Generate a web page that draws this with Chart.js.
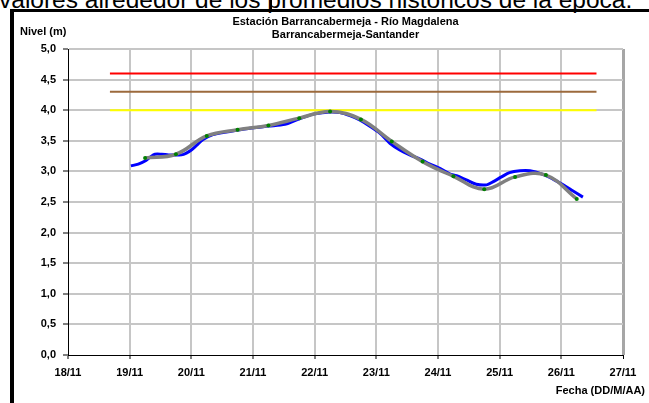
<!DOCTYPE html>
<html>
<head>
<meta charset="utf-8">
<script src="https://cdn.jsdelivr.net/npm/chart.js@4.4.0/dist/chart.umd.min.js"></script>
<style>
  html, body { margin: 0; padding: 0; background: #fff; width: 649px; height: 403px; overflow: hidden; }
  #top-text { position: absolute; left: -1px; top: -14px; font: 24.5px "Liberation Sans", Arial, sans-serif; white-space: nowrap; color: #000; }
  .bar { position: absolute; top: 0; width: 2px; height: 10px; background: #000; }
  #frame { position: absolute; left: 10px; top: 9px; width: 639px; height: 394px; border-left: 4px solid #000; border-top: 3px solid #000; box-sizing: border-box; }
  #wrap { position: absolute; left: 0; top: 0; width: 649px; height: 403px; }
</style>
</head>
<body>
<div id="top-text">valores alrededor de los promedios históricos de la época.</div>
<div class="bar" style="left:270px"></div>
<div id="frame"></div>
<div id="wrap"><canvas id="nivel"></canvas></div>
<script>
// textos
const titleLines = ['Estación Barrancabermeja - Río Magdalena', 'Barrancabermeja-Santander'];
const yTitle = 'Nivel (m)';
const xTitle = 'Fecha (DD/M/AA)';
const xTickLabels = ['18/11', '19/11', '20/11', '21/11', '22/11', '23/11', '24/11', '25/11', '26/11', '27/11'];

// nivel horario (dia del mes con fraccion)
const levelDays = [19.02, 19.14, 19.25, 19.33, 19.41, 19.52, 19.63, 19.73, 19.84, 19.92,
  20.00, 20.09, 20.19, 20.35, 20.54, 20.71, 20.98, 21.25, 21.52, 21.68,
  21.84, 22.00, 22.25, 22.41, 22.57, 22.73, 22.89, 23.06, 23.22, 23.38,
  23.54, 23.71, 23.87, 24.03, 24.19, 24.30, 24.46, 24.62, 24.79, 24.89,
  25.03, 25.16, 25.33, 25.49, 25.70, 25.87, 26.03, 26.19, 26.35];
const levels = [3.09, 3.12, 3.17, 3.23, 3.28, 3.28, 3.27, 3.27, 3.27, 3.30,
  3.35, 3.43, 3.52, 3.60, 3.64, 3.67, 3.71, 3.74, 3.77, 3.83,
  3.89, 3.94, 3.97, 3.96, 3.91, 3.84, 3.74, 3.62, 3.46, 3.35,
  3.27, 3.20, 3.12, 3.05, 2.96, 2.93, 2.86, 2.79, 2.78, 2.83,
  2.91, 2.98, 3.01, 3.01, 2.95, 2.87, 2.78, 2.68, 2.58];

// lecturas 6:00 y 18:00
const readDays = [19.25, 19.75, 20.25, 20.75, 21.25, 21.75, 22.25, 22.75, 23.25, 23.75, 24.25, 24.75, 25.25, 25.75, 26.25];
const readLevels = [3.22, 3.28, 3.58, 3.68, 3.75, 3.87, 3.98, 3.85, 3.49, 3.16, 2.92, 2.71, 2.91, 2.94, 2.55];

// umbrales
const alertLevels = [4.6, 4.3, 4.0];
const alertColors = ['#ff0000', '#9c6a3c', '#ffff00'];
const alertFrom = 18.68, alertTo = 26.57;

const pts = (xs, ys) => xs.map((x, i) => ({ x: x, y: ys[i] }));

const textPlugin = {
  id: 'texts',
  afterDraw(chart) {
    const ctx = chart.ctx, a = chart.chartArea;
    ctx.save();
    ctx.fillStyle = '#000';
    ctx.font = 'bold 11px "Liberation Sans", Arial, sans-serif';
    ctx.textBaseline = 'middle';
    ctx.textAlign = 'center';
    const cx = (a.left + a.right) / 2;
    ctx.fillText(titleLines[0], cx, 22);
    ctx.fillText(titleLines[1], cx, 35);
    ctx.textAlign = 'left';
    ctx.fillText(yTitle, 20, 32);
    ctx.textAlign = 'right';
    ctx.fillText(xTitle, 645, 391);
    ctx.restore();
  }
};

const datasets = [
  {
    data: pts(readDays, readLevels),
    borderColor: '#808080',
    borderWidth: 3.5,
    pointRadius: 2,
    pointBackgroundColor: '#008000',
    pointBorderColor: '#008000',
    pointBorderWidth: 0,
    tension: 0.4
  },
  {
    data: pts(levelDays, levels),
    borderColor: '#0000ff',
    borderWidth: 3,
    pointRadius: 0,
    tension: 0.3
  }
];
alertLevels.forEach((lv, i) => {
  datasets.push({
    data: [{ x: alertFrom, y: lv }, { x: alertTo, y: lv }],
    borderColor: alertColors[i],
    borderWidth: 2,
    pointRadius: 0
  });
});

const tickFont = { family: '"Liberation Sans", Arial, sans-serif', size: 11, weight: 'bold' };

new Chart(document.getElementById('nivel'), {
  type: 'line',
  data: { datasets: datasets },
  options: {
    responsive: true,
    maintainAspectRatio: false,
    animation: false,
    layout: { padding: { left: 10, right: 26, top: 49, bottom: 0 } },
    plugins: { legend: { display: false }, tooltip: { enabled: false } },
    scales: {
      x: {
        type: 'linear',
        min: 18,
        max: 27,
        afterFit: (s) => { s.height = 48; },
        ticks: {
          stepSize: 1,
          color: '#000',
          font: tickFont,
          padding: 7,
          maxRotation: 0,
          callback: (v) => xTickLabels[Math.round(v - 18)]
        },
        grid: {
          color: (c) => c.tick.value === 18 ? 'rgba(0,0,0,0)' : (c.tick.value === 27 ? '#a6a6a6' : '#c6c6c6'),
          lineWidth: (c) => c.tick.value === 27 ? 3 : 2,
          tickLength: 4,
          tickColor: '#000',
          tickWidth: 1
        },
        border: { color: '#000', width: 1 }
      },
      y: {
        min: 0,
        max: 5,
        afterFit: (s) => { s.width = 58; },
        ticks: {
          stepSize: 0.5,
          color: '#000',
          font: tickFont,
          padding: 7,
          callback: (v) => v.toFixed(1).replace('.', ',')
        },
        grid: {
          color: (c) => c.tick.value === 0 ? 'rgba(0,0,0,0)' : '#c6c6c6',
          lineWidth: 2,
          tickLength: 5,
          tickColor: '#000',
          tickWidth: 1
        },
        border: { color: '#000', width: 1 }
      }
    }
  },
  plugins: [textPlugin]
});
</script>
</body>
</html>
